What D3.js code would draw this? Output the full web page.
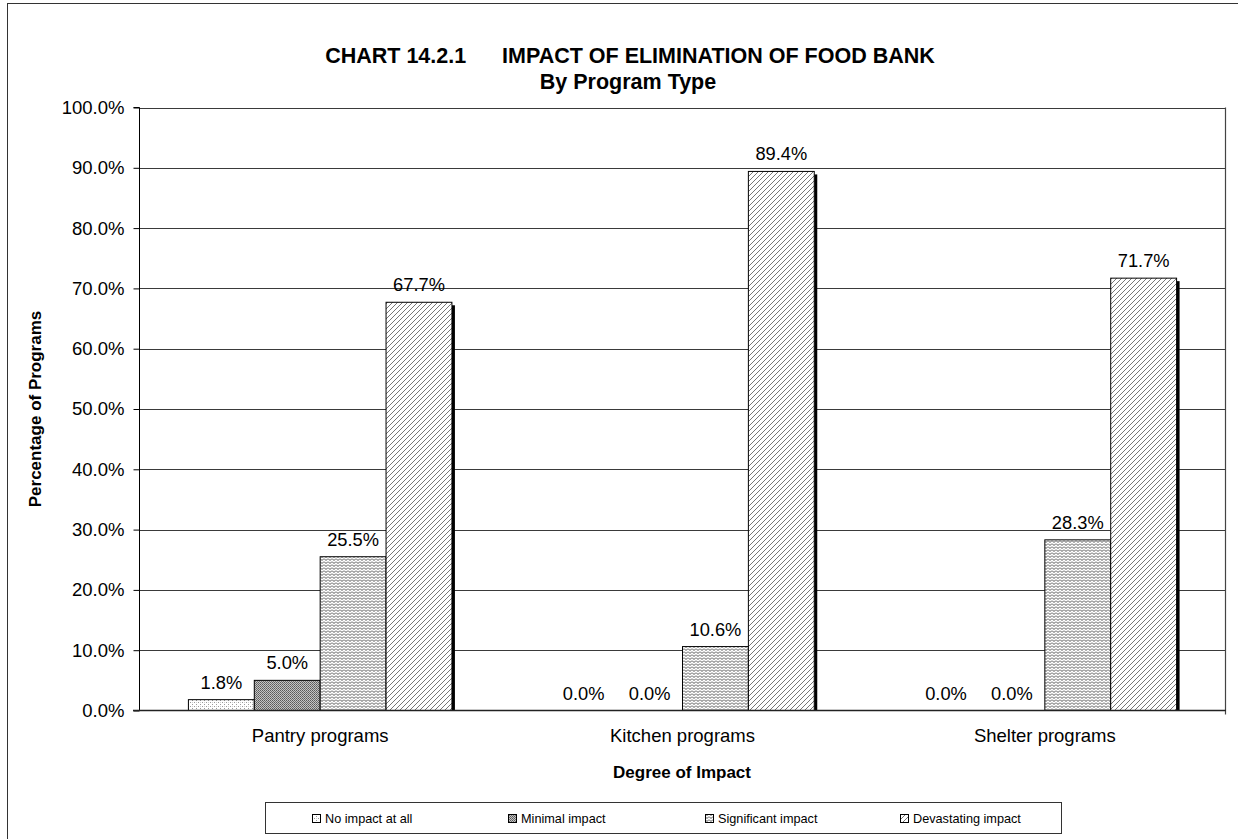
<!DOCTYPE html>
<html>
<head>
<meta charset="utf-8">
<script src="https://cdn.jsdelivr.net/npm/d3@7"></script>
<style>
  html, body { margin: 0; padding: 0; background: #fff; }
  svg { display: block; }
  text { font-family: Arial, "Liberation Sans", sans-serif; fill: #000; }
</style>
</head>
<body>
<svg id="chart" width="1238" height="839"></svg>
<script>
const categories = ["Pantry programs", "Kitchen programs", "Shelter programs"];
const seriesNames = ["No impact at all", "Minimal impact", "Significant impact", "Devastating impact"];
const noImpact = [1.8, 0.0, 0.0];
const minimalImpact = [5.0, 0.0, 0.0];
const significantImpact = [25.5, 10.6, 28.3];
const devastatingImpact = [67.7, 89.4, 71.7];
const yTicks = [0, 10, 20, 30, 40, 50, 60, 70, 80, 90, 100];
const titleLine1 = "CHART 14.2.1\u00a0\u00a0\u00a0\u00a0\u00a0\u00a0IMPACT OF ELIMINATION OF FOOD BANK";
const titleLine2 = "By Program Type";
const yTitle = "Percentage of Programs";
const xTitle = "Degree of Impact";

const seriesValues = [noImpact, minimalImpact, significantImpact, devastatingImpact];
const patternIds = ["pNone", "pMinimal", "pSignificant", "pDevastating"];
const FONT = "Arial, 'Liberation Sans', sans-serif";

const svg = d3.select("#chart");
const defs = svg.append("defs");

// Pattern: No impact (light dots)
const p1 = defs.append("pattern").attr("id", "pNone").attr("patternUnits", "userSpaceOnUse")
  .attr("width", 4).attr("height", 4);
p1.append("rect").attr("width", 4).attr("height", 4).attr("fill", "#fff");
p1.append("rect").attr("x", 0).attr("y", 0).attr("width", 1).attr("height", 1).attr("fill", "#9a9a9a");
p1.append("rect").attr("x", 2).attr("y", 2).attr("width", 1).attr("height", 1).attr("fill", "#9a9a9a");
p1.append("rect").attr("x", 0).attr("y", 2).attr("width", 1).attr("height", 1).attr("fill", "#d0d0d0");

// Pattern: Minimal (dense dark)
const p2 = defs.append("pattern").attr("id", "pMinimal").attr("patternUnits", "userSpaceOnUse")
  .attr("width", 2).attr("height", 2);
p2.append("rect").attr("width", 2).attr("height", 2).attr("fill", "#c4c4c4");
p2.append("rect").attr("x", 0).attr("y", 0).attr("width", 1).attr("height", 1).attr("fill", "#5a5a5a");
p2.append("rect").attr("x", 1).attr("y", 1).attr("width", 1).attr("height", 1).attr("fill", "#707070");

// Pattern: Significant (zigzag)
const p3 = defs.append("pattern").attr("id", "pSignificant").attr("patternUnits", "userSpaceOnUse")
  .attr("width", 4).attr("height", 3);
p3.append("rect").attr("width", 4).attr("height", 3).attr("fill", "#fff");
p3.append("path").attr("d", "M0,0.5 L2,2.5 L4,0.5").attr("fill", "none")
  .attr("stroke", "#505050").attr("stroke-width", 1);

// Pattern: Devastating (upward diagonal hatch)
const p4 = defs.append("pattern").attr("id", "pDevastating").attr("patternUnits", "userSpaceOnUse")
  .attr("width", 5).attr("height", 5);
p4.append("rect").attr("width", 5).attr("height", 5).attr("fill", "#fff");
p4.append("path").attr("d", "M-1,6 L6,-1 M-1,1 L1,-1 M4,6 L6,4").attr("fill", "none")
  .attr("stroke", "#777").attr("stroke-width", 1);

// Outer frame
svg.append("rect").attr("x", 7.5).attr("y", 3.5).attr("width", 1400).attr("height", 1000)
  .attr("fill", "none").attr("stroke", "#333").attr("stroke-width", 1);

const plotLeft = 139, plotRight = 1226, plotTop = 107.5, plotBottom = 710.5;

const x0 = d3.scaleBand().domain(categories).range([plotLeft, plotRight]).padding(0);
const bw = x0.bandwidth();
const gap = bw * 1.5 / 5.5;
const x1 = d3.scaleBand().domain(seriesNames).range([gap / 2, bw - gap / 2]).padding(0);
const y = d3.scaleLinear().domain([0, 100]).range([plotBottom, plotTop]);

// Gridlines
svg.append("g").selectAll("line").data(yTicks.filter(t => t > 0)).join("line")
  .attr("x1", plotLeft).attr("x2", plotRight)
  .attr("y1", d => Math.round(y(d)) + 0.5).attr("y2", d => Math.round(y(d)) + 0.5)
  .attr("stroke", "#3a3a3a").attr("stroke-width", 1);

// Right border of plot area
svg.append("line").attr("x1", plotRight - 0.5).attr("x2", plotRight - 0.5)
  .attr("y1", plotTop).attr("y2", plotBottom + 4)
  .attr("stroke", "#444").attr("stroke-width", 1.2);

// Data flattening
const data = [];
categories.forEach((c, ci) => {
  seriesNames.forEach((s, si) => {
    data.push({ cat: c, series: s, si, value: seriesValues[si][ci] });
  });
});

// Shadows
svg.append("g").selectAll("rect").data(data.filter(d => d.value > 0)).join("rect")
  .attr("x", d => x0(d.cat) + x1(d.series) + x1.bandwidth())
  .attr("y", d => y(d.value) + 3)
  .attr("width", 3)
  .attr("height", d => plotBottom - y(d.value) - 3)
  .attr("fill", "#000");

// Bars
svg.append("g").selectAll("rect").data(data.filter(d => d.value > 0)).join("rect")
  .attr("x", d => x0(d.cat) + x1(d.series))
  .attr("y", d => y(d.value))
  .attr("width", x1.bandwidth())
  .attr("height", d => plotBottom - y(d.value))
  .attr("fill", d => `url(#${patternIds[d.si]})`)
  .attr("stroke", "#000").attr("stroke-width", 1);

// Data labels
svg.append("g").selectAll("text").data(data).join("text")
  .attr("x", d => x0(d.cat) + x1(d.series) + x1.bandwidth() / 2)
  .attr("y", d => y(d.value) - 11)
  .attr("text-anchor", "middle")
  .attr("font-size", "18.3px")
  .text(d => d.value.toFixed(1) + "%");

// Y axis
const yAxis = d3.axisLeft(y).tickValues(yTicks).tickSize(6).tickPadding(9)
  .tickFormat(d => d.toFixed(1) + "%");
const gy = svg.append("g").attr("transform", `translate(${plotLeft + 0.5},0)`).call(yAxis);
gy.select(".domain").attr("stroke", "#000").attr("d", `M-6,${plotTop}H0V${plotBottom}H-6`);
gy.selectAll(".tick line").attr("stroke", "#000");
gy.selectAll(".tick text").attr("font-size", "18.5px").attr("font-family", FONT).attr("fill", "#000");

// X axis
const xAxis = d3.axisBottom(x0).tickSize(0).tickPadding(18);
const gx = svg.append("g").attr("transform", `translate(0,${plotBottom})`).call(xAxis);
gx.select(".domain").attr("stroke", "#222").attr("stroke-width", 1.5).attr("d", `M${plotLeft - 6},0H${plotRight}`);
gx.selectAll(".tick text").attr("font-size", "18.5px").attr("font-family", FONT).attr("fill", "#000");

// Titles
svg.append("text").attr("x", 630).attr("y", 63).attr("text-anchor", "middle")
  .attr("font-size", "21.5px").attr("font-weight", "bold").text(titleLine1);
svg.append("text").attr("x", 628).attr("y", 89).attr("text-anchor", "middle")
  .attr("font-size", "21.5px").attr("font-weight", "bold").text(titleLine2);

svg.append("text").attr("transform", `translate(41,${(plotTop + plotBottom) / 2}) rotate(-90)`)
  .attr("text-anchor", "middle").attr("font-size", "17px").attr("font-weight", "bold").text(yTitle);

svg.append("text").attr("x", 682).attr("y", 778).attr("text-anchor", "middle")
  .attr("font-size", "17px").attr("font-weight", "bold").text(xTitle);

// Legend
const legend = svg.append("g");
legend.append("rect").attr("x", 265.5).attr("y", 802.5).attr("width", 796).attr("height", 31)
  .attr("fill", "#fff").attr("stroke", "#333").attr("stroke-width", 1);
const legendX = [312, 508, 705, 900];
const items = legend.selectAll("g.item").data(seriesNames).join("g")
  .attr("transform", (d, i) => `translate(${legendX[i]},0)`);
items.append("rect").attr("x", 0.5).attr("y", 814.5).attr("width", 8).attr("height", 8)
  .attr("fill", (d, i) => `url(#${patternIds[i]})`).attr("stroke", "#000").attr("stroke-width", 1);
items.append("text").attr("x", 13).attr("y", 823).attr("font-size", "12.7px").text(d => d);
</script>
</body>
</html>
